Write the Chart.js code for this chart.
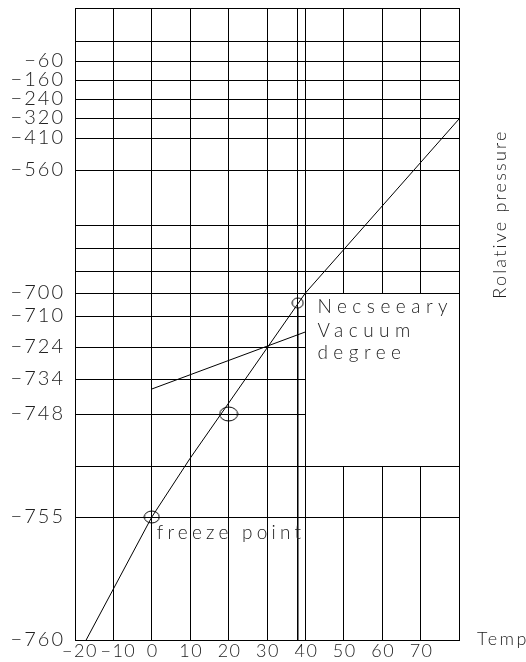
<!DOCTYPE html>
<html>
<head>
<meta charset="utf-8">
<script src="https://cdn.jsdelivr.net/npm/chart.js@4/dist/chart.umd.min.js"></script>
<style>
html, body { margin: 0; padding: 0; background: #fff; }
#wrap { width: 526px; height: 662px; position: relative; }
</style>
</head>
<body>
<div id="wrap"><canvas id="chart"></canvas></div>
<script>
// bottom axis (temperature)
var tempTicks = [-20, -10, 0, 10, 20, 30, 40, 50, 60, 70, 80];
var tempLabels = ['-20', '-10', '0', '10', '20', '30', '40', '50', '60', '70', ''];
var markTemp = 38;

// left axis (relative pressure), '' = gridline without label
var pressureTicks = [-760, -755, -750, -748, -734, -724, -710, -700, -680, -650, -620, -560, -410, -320, -240, -160, -60, -20, 0];
var pressureLabels = ['-760', '-755', '', '-748', '-734', '-724', '-710', '-700', '', '', '', '-560', '-410', '-320', '-240', '-160', '-60', '', ''];

// saturation curve
var curveTemp = [-17.1, 0, 10, 40, 80];
var curvePressure = [-760, -755, -749.7, -700, -324.5];

// necessary vacuum line
var vacuumTemp = [0, 40];
var vacuumPressure = [-738, -717.2];

// drop line at 38 deg
var markPressure = [-706.5, -760];

// marked points
var circleTemp = [0, 20, 38];
var circlePressure = [-755, -748, -704.3];

// the paper is not ruled evenly: height of each pressure gridline above the bottom
var paperRuling = [0, 123, 174, 226, 261, 293, 324, 347, 369, 392, 415, 470, 502, 522, 541, 560, 579, 598, 632];

function pressureToDecimal(v) {
	var t = pressureTicks, r = paperRuling, top = r[r.length - 1];
	if (v <= t[0]) return 0;
	for (var i = 1; i < t.length; i++) {
		if (v <= t[i]) {
			var f = (v - t[i - 1]) / (t[i] - t[i - 1]);
			return (r[i - 1] + f * (r[i] - r[i - 1])) / top;
		}
	}
	return 1;
}

class PaperScale extends Chart.LinearScale {
	getPixelForValue(value) {
		return this.getPixelForDecimal(pressureToDecimal(value));
	}
	getValueForPixel(pixel) {
		var d = this.getDecimalForPixel(pixel) * paperRuling[paperRuling.length - 1];
		for (var i = 1; i < paperRuling.length; i++) {
			if (d <= paperRuling[i]) {
				var f = (d - paperRuling[i - 1]) / (paperRuling[i] - paperRuling[i - 1]);
				return pressureTicks[i - 1] + f * (pressureTicks[i] - pressureTicks[i - 1]);
			}
		}
		return pressureTicks[pressureTicks.length - 1];
	}
}
PaperScale.id = 'paper';
PaperScale.defaults = Chart.LinearScale.defaults;
Chart.register(PaperScale);

function ring(rx, ry) {
	var c = document.createElement('canvas');
	c.width = Math.ceil(2 * rx + 2);
	c.height = Math.ceil(2 * ry + 2);
	var g = c.getContext('2d');
	g.strokeStyle = '#000';
	g.lineWidth = 1;
	g.beginPath();
	g.ellipse(c.width / 2, c.height / 2, rx, ry, 0, 0, 2 * Math.PI);
	g.stroke();
	return c;
}

function pairs(xs, ys) {
	return xs.map(function(x, i) { return {x: x, y: ys[i]}; });
}

var FONT = '"Lato", "DejaVu Sans", sans-serif';
var INK = '#222';

function text(ctx, str, x, y, size, spacing, align, baseline) {
	ctx.font = '300 ' + size + 'px ' + FONT;
	ctx.letterSpacing = spacing + 'px';
	ctx.textAlign = align;
	ctx.textBaseline = baseline;
	// the drawing uses a long dash for the sign
	ctx.fillText(str.replace(/-/g, '\u2212'), x, y);
}

// white box behind the "Necseeary Vacuum degree" note
var noteBox = {
	id: 'noteBox',
	beforeDatasetsDraw: function(chart) {
		var ctx = chart.ctx, xs = chart.scales.x, ys = chart.scales.y;
		var l = Math.round(xs.getPixelForValue(40) - 0.5) + 1;
		var r = Math.round(xs.getPixelForValue(80) - 0.5);
		var t = Math.round(ys.getPixelForValue(-700) - 0.5) + 1;
		var b = Math.round(ys.getPixelForValue(-750) - 0.5);
		ctx.save();
		ctx.fillStyle = '#fff';
		ctx.fillRect(l, t, r - l, b - t);
		ctx.restore();
	}
};

var labels = {
	id: 'labels',
	afterDraw: function(chart) {
		var ctx = chart.ctx, xs = chart.scales.x, ys = chart.scales.y, a = chart.chartArea;
		ctx.save();
		ctx.fillStyle = INK;
		pressureTicks.forEach(function(v, i) {
			if (pressureLabels[i]) text(ctx, pressureLabels[i], a.left - 10, ys.getPixelForValue(v), 20, 2, 'right', 'middle');
		});
		tempTicks.forEach(function(v, i) {
			if (tempLabels[i]) text(ctx, tempLabels[i], xs.getPixelForValue(v) + (v < 0 ? 5 : 1), a.bottom + 11, 18, 1.5, 'center', 'middle');
		});
		text(ctx, 'Temp', a.right + 18, a.bottom - 1, 18, 2.5, 'left', 'middle');

		var x40 = xs.getPixelForValue(40), y700 = ys.getPixelForValue(-700);
		text(ctx, 'Necseeary', x40 + 12, y700 + 20, 19, 5.5, 'left', 'alphabetic');
		text(ctx, 'Vacuum', x40 + 12, y700 + 44, 19, 5.5, 'left', 'alphabetic');
		text(ctx, 'degree', x40 + 12, y700 + 66, 19, 5.5, 'left', 'alphabetic');

		text(ctx, 'freeze point', xs.getPixelForValue(0) + 5, ys.getPixelForValue(-755) + 22, 19, 4.2, 'left', 'alphabetic');

		ctx.translate(a.right + 41, 214);
		ctx.rotate(-Math.PI / 2);
		text(ctx, 'Rolative pressure', 0, 0, 18, 2.2, 'center', 'middle');
		ctx.restore();
	}
};

var lineStyle = {
	showLine: true,
	borderColor: '#000',
	borderWidth: 1,
	pointRadius: 0,
	tension: 0,
	fill: false
};

var gridStyle = {
	color: '#000',
	lineWidth: 1,
	drawTicks: false
};

var ctx = document.getElementById('chart').getContext('2d');
var chart = new Chart(ctx, {
	type: 'scatter',
	data: {
		datasets: [
			Object.assign({label: 'curve', data: pairs(curveTemp, curvePressure)}, lineStyle),
			Object.assign({label: 'vacuum', data: pairs(vacuumTemp, vacuumPressure)}, lineStyle),
			Object.assign({label: 'mark', data: pairs([markTemp, markTemp], markPressure)}, lineStyle),
			{
				label: 'points',
				data: pairs(circleTemp, circlePressure),
				pointStyle: [ring(7.5, 6), ring(9, 7), ring(5.5, 5)],
				pointRadius: 5,
				showLine: false
			}
		]
	},
	options: {
		responsive: true,
		maintainAspectRatio: false,
		animation: false,
		events: [],
		layout: {padding: {left: 75, right: 67, top: 8, bottom: 22}},
		plugins: {legend: {display: false}, tooltip: {enabled: false}},
		scales: {
			x: {
				type: 'linear',
				min: -20,
				max: 80,
				afterBuildTicks: function(scale) {
					scale.ticks = tempTicks.concat([markTemp]).map(function(v) { return {value: v}; });
				},
				ticks: {display: false},
				grid: gridStyle,
				border: {display: true, color: '#000', width: 1}
			},
			y: {
				type: 'paper',
				min: -760,
				max: 0,
				afterBuildTicks: function(scale) {
					scale.ticks = pressureTicks.map(function(v) { return {value: v}; });
				},
				ticks: {display: false},
				grid: gridStyle,
				border: {display: true, color: '#000', width: 1}
			}
		}
	},
	plugins: [noteBox, labels]
});
</script>
</body>
</html>
